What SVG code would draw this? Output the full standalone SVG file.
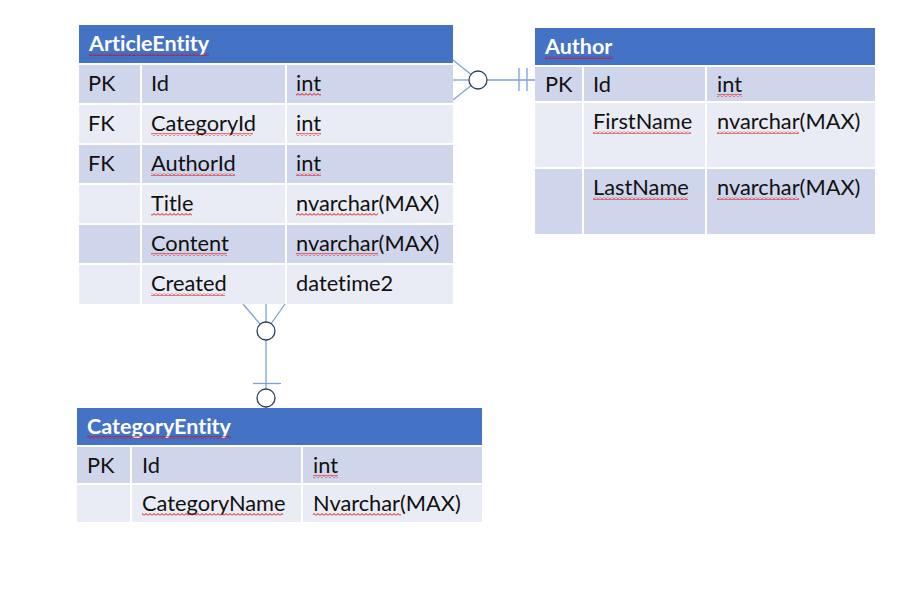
<svg xmlns="http://www.w3.org/2000/svg" width="901" height="612" viewBox="0 0 901 612">
<defs>
<pattern id="sq" width="4" height="3" patternUnits="userSpaceOnUse">
<path d="M0,2.5 L2,0.5 L4,2.5" fill="none" stroke="#e00000" stroke-width="1"/>
</pattern>
</defs>
<style>
.hdr{fill:#4472C4}
.dk{fill:#CFD5EA}
.lt{fill:#E9EBF5}
.sep{stroke:#FFFFFF;stroke-width:2;fill:none}
.t{font-family:Lato,"Liberation Sans",sans-serif;font-size:21.8px;fill:#111;font-variant-ligatures:none}
.h{font-family:Lato,"Liberation Sans",sans-serif;font-size:21.5px;font-weight:bold;fill:#FFFFFF;font-variant-ligatures:none}
.sq{fill:url(#sq)}
.cn{stroke:#7F9FD6;stroke-width:1.3;fill:none}
.ci{stroke:#2E3D5C;stroke-width:1.3;fill:#FFFFFF}
</style>
<g id="connectors">
<line class="cn" x1="453" y1="60" x2="478" y2="80"/>
<line class="cn" x1="453" y1="80" x2="478" y2="80"/>
<line class="cn" x1="453" y1="100" x2="478" y2="80"/>
<line class="cn" x1="478" y1="80" x2="535" y2="80"/>
<line class="cn" x1="519" y1="68" x2="519" y2="91"/>
<line class="cn" x1="527" y1="68" x2="527" y2="91"/>
<circle class="ci" cx="478" cy="80" r="9"/>
<line class="cn" x1="243" y1="304" x2="266" y2="331"/>
<line class="cn" x1="266" y1="304" x2="266" y2="408"/>
<line class="cn" x1="285" y1="304" x2="266" y2="331"/>
<line class="cn" x1="253" y1="383.5" x2="281" y2="383.5"/>
<circle class="ci" cx="266" cy="331" r="9"/>
<circle class="ci" cx="266" cy="398" r="9"/>
</g>
<g id="ArticleEntity">
<rect class="hdr" x="79" y="25" width="374" height="39"/>
<rect class="dk" x="79" y="64" width="374" height="40"/>
<rect class="lt" x="79" y="104" width="374" height="40"/>
<rect class="dk" x="79" y="144" width="374" height="40"/>
<rect class="lt" x="79" y="184" width="374" height="40"/>
<rect class="dk" x="79" y="224" width="374" height="40"/>
<rect class="lt" x="79" y="264" width="374" height="40"/>
<path class="sep" d="M79,64H453M79,104H453M79,144H453M79,184H453M79,224H453M79,264H453M141,64V304M286,64V304"/>
<text class="h" x="89" y="51">ArticleEntity</text>
<text class="t" x="88" y="91">PK</text><text class="t" x="151" y="91">Id</text><text class="t" x="296" y="91">int</text>
<text class="t" x="88" y="131">FK</text><text class="t" x="151" y="131">CategoryId</text><text class="t" x="296" y="131">int</text>
<text class="t" x="88" y="171">FK</text><text class="t" x="151" y="171">AuthorId</text><text class="t" x="296" y="171">int</text>
<text class="t" x="151" y="211">Title</text><text class="t" x="296" y="211">nvarchar(MAX)</text>
<text class="t" x="151" y="251">Content</text><text class="t" x="296" y="251">nvarchar(MAX)</text>
<text class="t" x="151" y="291">Created</text><text class="t" x="296" y="291">datetime2</text>
<rect class="sq" x="89" y="53" width="120" height="3"/>
<rect class="sq" x="151" y="133" width="102" height="3"/>
<rect class="sq" x="151" y="173" width="84" height="3"/>
<rect class="sq" x="151" y="213" width="41" height="3"/>
<rect class="sq" x="151" y="253" width="76" height="3"/>
<rect class="sq" x="151" y="293" width="74" height="3"/>
<rect class="sq" x="296" y="93" width="25" height="3"/>
<rect class="sq" x="296" y="133" width="25" height="3"/>
<rect class="sq" x="296" y="173" width="25" height="3"/>
<rect class="sq" x="296" y="213" width="82" height="3"/>
<rect class="sq" x="296" y="253" width="82" height="3"/>
</g>
<g id="Author">
<rect class="hdr" x="535" y="28" width="340" height="38"/>
<rect class="dk" x="535" y="66" width="340" height="36"/>
<rect class="lt" x="535" y="102" width="340" height="66"/>
<rect class="dk" x="535" y="168" width="340" height="66"/>
<path class="sep" d="M535,66H875M535,102H875M535,168H875M583,66V234M706,66V234"/>
<text class="h" x="545" y="54">Author</text>
<text class="t" x="545" y="92">PK</text><text class="t" x="593" y="92">Id</text><text class="t" x="717" y="92">int</text>
<text class="t" x="593" y="129">FirstName</text><text class="t" x="717" y="129">nvarchar(MAX)</text>
<text class="t" x="593" y="195">LastName</text><text class="t" x="717" y="195">nvarchar(MAX)</text>
<rect class="sq" x="545" y="56" width="68" height="3"/>
<rect class="sq" x="717" y="94" width="25" height="3"/>
<rect class="sq" x="593" y="131" width="98" height="3"/>
<rect class="sq" x="717" y="131" width="82" height="3"/>
<rect class="sq" x="593" y="197" width="95" height="3"/>
<rect class="sq" x="717" y="197" width="82" height="3"/>
</g>
<g id="CategoryEntity">
<rect class="hdr" x="77" y="408" width="405" height="38"/>
<rect class="dk" x="77" y="446" width="405" height="38"/>
<rect class="lt" x="77" y="484" width="405" height="38"/>
<path class="sep" d="M77,446H482M77,484H482M131,446V522M302,446V522"/>
<text class="h" x="87" y="434">CategoryEntity</text>
<text class="t" x="87" y="473">PK</text><text class="t" x="142" y="473">Id</text><text class="t" x="313" y="473">int</text>
<text class="t" x="142" y="511">CategoryName</text><text class="t" x="313" y="511">Nvarchar(MAX)</text>
<rect class="sq" x="87" y="436" width="144" height="3"/>
<rect class="sq" x="313" y="475" width="25" height="3"/>
<rect class="sq" x="142" y="513" width="141" height="3"/>
<rect class="sq" x="313" y="513" width="88" height="3"/>
</g>
</svg>
